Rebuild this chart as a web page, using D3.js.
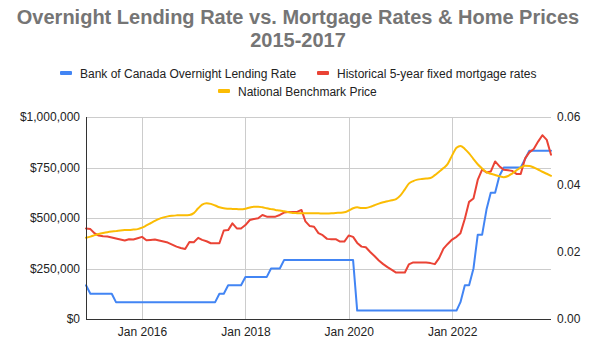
<!DOCTYPE html>
<html>
<head>
<meta charset="utf-8">
<script src="https://cdn.jsdelivr.net/npm/d3@7"></script>
<style>
  html, body { margin: 0; padding: 0; background: #fff; }
  svg { display: block; font-family: "Liberation Sans", Arial, sans-serif; }
</style>
</head>
<body>
<svg id="chart" width="596" height="348"></svg>
<script>
// Monthly observations, Dec 2014 through Dec 2023
const startMonth = new Date(2014, 11, 1);
const endMonth = new Date(2023, 11, 1);

// Bank of Canada overnight lending rate (month-end, decimal)
const overnightRate = [
  0.01,
  0.0075, 0.0075, 0.0075, 0.0075, 0.0075, 0.0075,
  0.005, 0.005, 0.005, 0.005, 0.005, 0.005, 0.005, 0.005, 0.005, 0.005, 0.005, 0.005,
  0.005, 0.005, 0.005, 0.005, 0.005, 0.005, 0.005, 0.005, 0.005, 0.005, 0.005, 0.005,
  0.0075, 0.0075,
  0.01, 0.01, 0.01, 0.01,
  0.0125, 0.0125, 0.0125, 0.0125, 0.0125, 0.0125,
  0.015, 0.015, 0.015,
  0.0175, 0.0175, 0.0175, 0.0175, 0.0175, 0.0175, 0.0175, 0.0175, 0.0175,
  0.0175, 0.0175, 0.0175, 0.0175, 0.0175, 0.0175, 0.0175, 0.0175,
  0.0025, 0.0025, 0.0025, 0.0025, 0.0025, 0.0025, 0.0025, 0.0025, 0.0025, 0.0025, 0.0025, 0.0025,
  0.0025, 0.0025, 0.0025, 0.0025, 0.0025, 0.0025, 0.0025, 0.0025, 0.0025, 0.0025, 0.0025, 0.0025,
  0.005,
  0.01, 0.01,
  0.015,
  0.025, 0.025,
  0.0325,
  0.0375, 0.0375,
  0.0425,
  0.045, 0.045, 0.045, 0.045, 0.045,
  0.0475,
  0.05, 0.05, 0.05, 0.05, 0.05, 0.05
];

// Historical 5-year fixed mortgage rates (decimal)
const mortgageRate = [
  0.0269, 0.0267, 0.0254, 0.0248, 0.0246, 0.0245, 0.0242, 0.0239, 0.0236, 0.0233,
  0.0237, 0.0236, 0.0240, 0.0244, 0.0234, 0.0235, 0.0236, 0.0233, 0.0230, 0.0227,
  0.0221, 0.0215, 0.0211, 0.0208, 0.0229, 0.0228, 0.0241, 0.0235, 0.0231, 0.0225,
  0.0225, 0.0225, 0.0263, 0.0264, 0.0284, 0.0269, 0.0269, 0.0279, 0.0294, 0.0297,
  0.0299, 0.0309, 0.0304, 0.0304, 0.0304, 0.0309, 0.0316, 0.0318, 0.0318, 0.0318,
  0.0324, 0.0290, 0.0276, 0.0274, 0.0255, 0.0249, 0.0238, 0.0237, 0.0237, 0.0230,
  0.0230, 0.0248, 0.0244, 0.0226, 0.0215, 0.0213, 0.0199, 0.0187, 0.0174, 0.0163,
  0.0154, 0.0146, 0.0138, 0.0138, 0.0138, 0.0162, 0.0168, 0.0168, 0.0168, 0.0168,
  0.0166, 0.0163, 0.0181, 0.0209, 0.0223, 0.0236, 0.0244, 0.0255, 0.0298, 0.0348,
  0.0358, 0.0413, 0.0444, 0.0435, 0.0438, 0.0468, 0.0454, 0.0443, 0.0442, 0.0440,
  0.0431, 0.0431, 0.0477, 0.0495, 0.0505, 0.0527, 0.0546, 0.0532, 0.0488
];

// National benchmark home price (CAD)
const benchmarkPrice = [
  402000, 408000, 415000, 421000, 426000, 430000, 433000, 435000, 438000, 440000,
  441000, 443000, 445000, 452000, 463000, 474000, 486000, 496000, 503000, 508000,
  511000, 513000, 514000, 514000, 515000, 524000, 548000, 566000, 573000, 570000,
  562000, 553000, 548000, 546000, 545000, 544000, 543000, 546000, 552000, 556000,
  556000, 553000, 548000, 544000, 540000, 537000, 533000, 529000, 525000, 524000,
  523000, 523000, 523000, 523000, 523000, 522000, 522000, 523000, 525000, 526000,
  528000, 537000, 548000, 553000, 549000, 550000, 555000, 563000, 571000, 578000,
  583000, 588000, 594000, 612000, 642000, 670000, 683000, 690000, 693000, 695000,
  698000, 712000, 729000, 747000, 768000, 810000, 848000, 857000, 842000, 820000,
  792000, 766000, 745000, 727000, 719000, 713000, 707000, 702000, 708000, 720000,
  736000, 750000, 759000, 758000, 750000, 740000, 729000, 719000, 709000
];

const seriesNames = [
  "Bank of Canada Overnight Lending Rate",
  "Historical 5-year fixed mortgage rates",
  "National Benchmark Price"
];
const seriesColors = ["#4285F4", "#EA4335", "#FBBC04"];

const priceTicks = [0, 250000, 500000, 750000, 1000000];
const rateTicks = [0, 0.02, 0.04, 0.06];
const yearTicks = [2016, 2018, 2020, 2022];

const titleLines = ["Overnight Lending Rate vs. Mortgage Rates & Home Prices", "2015-2017"];

const months = d3.timeMonth.range(startMonth, d3.timeMonth.offset(endMonth, 1));

const svg = d3.select("#chart");
const plot = { left: 86, right: 551, top: 117, bottom: 319 };

const x = d3.scaleTime().domain([startMonth, endMonth]).range([plot.left, plot.right]);
const yPrice = d3.scaleLinear().domain([0, 1000000]).range([plot.bottom, plot.top]);
const yRate = d3.scaleLinear().domain([0, 0.06]).range([plot.bottom, plot.top]);

// Title
svg.append("g").selectAll("text").data(titleLines).join("text")
  .attr("x", 298)
  .attr("y", (d, i) => 24 + i * 23)
  .attr("text-anchor", "middle")
  .attr("font-size", 20)
  .attr("font-weight", "bold")
  .attr("fill", "#757575")
  .text(d => d);

// Legend
const legendItems = [
  { name: seriesNames[0], color: seriesColors[0], x: 60, y: 73 },
  { name: seriesNames[1], color: seriesColors[1], x: 317, y: 73 },
  { name: seriesNames[2], color: seriesColors[2], x: 218, y: 91 }
];
const lg = svg.append("g").selectAll("g").data(legendItems).join("g")
  .attr("transform", d => `translate(${d.x},${d.y})`);
lg.append("rect")
  .attr("x", 0).attr("y", -2).attr("width", 12).attr("height", 4).attr("rx", 1)
  .attr("fill", d => d.color);
lg.append("text")
  .attr("x", 20).attr("y", 4.5)
  .attr("font-size", 12)
  .attr("fill", "#222")
  .text(d => d.name);

// Gridlines
const grid = svg.append("g");
grid.selectAll("line.h").data(priceTicks.slice(1)).join("line")
  .attr("class", "h")
  .attr("x1", plot.left).attr("x2", plot.right)
  .attr("y1", d => Math.round(yPrice(d)) + 0.5).attr("y2", d => Math.round(yPrice(d)) + 0.5)
  .attr("stroke", "#cccccc").attr("stroke-width", 1);
grid.selectAll("line.v").data(yearTicks).join("line")
  .attr("class", "v")
  .attr("x1", d => Math.round(x(new Date(d, 0, 1))) + 0.5)
  .attr("x2", d => Math.round(x(new Date(d, 0, 1))) + 0.5)
  .attr("y1", plot.top).attr("y2", plot.bottom)
  .attr("stroke", "#cccccc").attr("stroke-width", 1);

// Left axis (price)
const leftAxis = d3.axisLeft(yPrice).tickValues(priceTicks)
  .tickFormat(d => "$" + d3.format(",")(d)).tickSize(0).tickPadding(6);
const gl = svg.append("g").attr("transform", `translate(${plot.left},0)`).call(leftAxis);
gl.select(".domain").remove();
gl.selectAll("text").attr("font-size", 12).attr("fill", "#222")
  .attr("font-family", "'Liberation Sans', Arial, sans-serif");

// Right axis (rate)
const rightAxis = d3.axisRight(yRate).tickValues(rateTicks)
  .tickFormat(d3.format(".2f")).tickSize(0).tickPadding(6);
const gr = svg.append("g").attr("transform", `translate(${plot.right},0)`).call(rightAxis);
gr.select(".domain").remove();
gr.selectAll("text").attr("font-size", 12).attr("fill", "#222")
  .attr("font-family", "'Liberation Sans', Arial, sans-serif");

// Bottom axis (time)
const bottomAxis = d3.axisBottom(x).tickValues(yearTicks.map(yv => new Date(yv, 0, 1)))
  .tickFormat(d3.timeFormat("Jan %Y")).tickSize(0).tickPadding(8);
const gb = svg.append("g").attr("transform", `translate(0,${plot.bottom})`).call(bottomAxis);
gb.select(".domain").remove();
gb.selectAll("text").attr("font-size", 12).attr("fill", "#222")
  .attr("font-family", "'Liberation Sans', Arial, sans-serif");

// Series lines
const lineRate = d3.line().x((d, i) => x(months[i])).y(d => yRate(d));
const linePrice = d3.line().x((d, i) => x(months[i])).y(d => yPrice(d)).curve(d3.curveMonotoneX);

const lines = svg.append("g").attr("fill", "none").attr("stroke-width", 2)
  .attr("stroke-linejoin", "round").attr("stroke-linecap", "round");
lines.append("path").attr("d", lineRate(overnightRate)).attr("stroke", seriesColors[0]);
lines.append("path").attr("d", lineRate(mortgageRate)).attr("stroke", seriesColors[1]);
lines.append("path").attr("d", linePrice(benchmarkPrice)).attr("stroke", seriesColors[2]);

// Axis baselines
svg.append("line")
  .attr("x1", plot.left + 0.5).attr("x2", plot.left + 0.5)
  .attr("y1", plot.top).attr("y2", plot.bottom + 0.5)
  .attr("stroke", "#333").attr("stroke-width", 1);
svg.append("line")
  .attr("x1", plot.left).attr("x2", plot.right)
  .attr("y1", plot.bottom + 0.5).attr("y2", plot.bottom + 0.5)
  .attr("stroke", "#333").attr("stroke-width", 1);
</script>
</body>
</html>
